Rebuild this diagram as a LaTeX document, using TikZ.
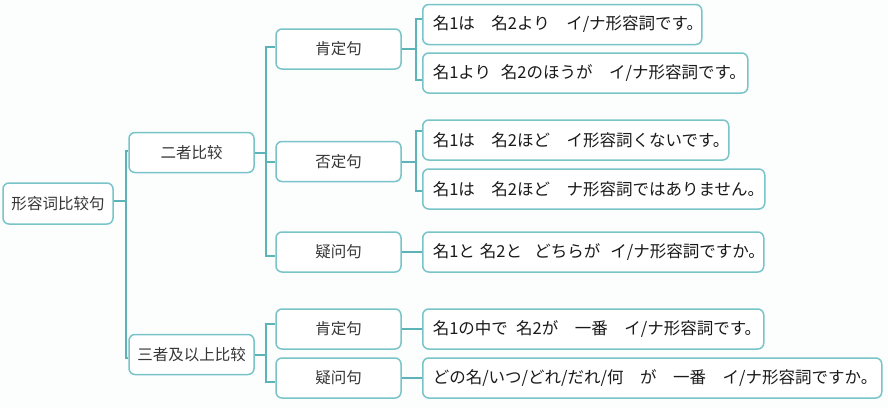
\documentclass[tikz,border=0pt]{standalone}
\usepackage{fontspec}
\newfontfamily\zhfont{Noto Sans CJK SC}
\newfontfamily\jafont{Noto Sans CJK JP}
\definecolor{bgc}{HTML}{FCFDFD}
\definecolor{boxc}{RGB}{120,196,200}
\definecolor{linec}{RGB}{92,180,184}
\definecolor{zhtext}{HTML}{363636}
\definecolor{jatext}{HTML}{1A1A1A}
\newcommand\jgap[1]{\kern#1em\relax}
\begin{document}
\begin{tikzpicture}[x=1pt,y=-1pt,
  box/.style={draw=boxc, line width=1.5pt, rounded corners=6pt, fill=white, inner sep=0pt, minimum height=40pt},
  cat/.style={box, minimum width=125pt, font=\zhfont\fontsize{15.5}{18}\selectfont, text=zhtext},
  sent/.style={box, anchor=west, inner xsep=10pt, align=left, font=\jafont\fontsize{16.5}{19}\selectfont, text=jatext},
  link/.style={draw=linec, line width=2pt}]
\fill[bgc] (0,0) rectangle (888,408);
\useasboundingbox (0,0) rectangle (888,408);

% level 0
\node[cat, minimum width=110pt, minimum height=41pt] (root) at (58,203.5) {形容词比较句};
% level 1
\node[cat] (two) at (191.5,152.5) {二者比较};
\node[cat] (three) at (191.5,354.5) {三者及以上比较};
% level 2
\node[cat] (posA) at (338.5,49) {肯定句};
\node[cat] (negA) at (338.5,161.5) {否定句};
\node[cat] (qA) at (338.5,252) {疑问句};
\node[cat] (posB) at (338.5,329) {肯定句};
\node[cat] (qB) at (338.5,378) {疑问句};
% level 3
\node[sent, text width=259pt] (s1) at (422,24.5) {名1は　名2より　イ/ナ形容詞です。};
\node[sent, text width=305pt] (s2) at (422,73) {名1より\jgap{0.6}名2のほうが　イ/ナ形容詞です。};
\node[sent, text width=286pt] (s3) at (422,140) {名1は　名2ほど　イ形容詞くないです。};
\node[sent, text width=322pt] (s4) at (422,189) {名1は　名2ほど　ナ形容詞ではありません。};
\node[sent, text width=321pt] (s5) at (422,252) {名1と\jgap{0.3}名2と\jgap{0.75}どちらが\jgap{0.6}イ/ナ形容詞ですか。};
\node[sent, text width=321pt] (s6) at (422,329) {名1の中で\jgap{0.5}名2が　一番　イ/ナ形容詞です。};
\node[sent, text width=439pt] (s7) at (422,378) {どの名/いつ/どれ/だれ/何　が　一番　イ/ナ形容詞ですか。};

% connectors
\draw[link] ([yshift=3pt]root.east) -- ++(12,0) |- ([yshift=1.5pt]two.west);
\draw[link] ([yshift=3pt]root.east) -- ++(12,0) |- ([yshift=-3.5pt]three.west);

\draw[link] (two.east) -- ++(11,0) |- ([yshift=2pt]posA.west);
\draw[link] (two.east) -- ++(11,0) |- (negA.west);
\draw[link] (two.east) -- ++(11,0) |- ([yshift=-4pt]qA.west);

\draw[link] (three.east) -- ++(11,0) |- ([yshift=5pt]posB.west);
\draw[link] (three.east) -- ++(11,0) |- ([yshift=-4pt]qB.west);

\draw[link] (posA.east) -- ++(14,0) |- ([yshift=5.5pt]s1.west);
\draw[link] (posA.east) -- ++(14,0) |- ([yshift=-7pt]s2.west);
\draw[link] (negA.east) -- ++(14,0) |- ([yshift=9pt]s3.west);
\draw[link] (negA.east) -- ++(14,0) |- ([yshift=-2pt]s4.west);
\draw[link] (qA.east) -- (s5.west);
\draw[link] (posB.east) -- (s6.west);
\draw[link] (qB.east) -- (s7.west);
\end{tikzpicture}
\end{document}
